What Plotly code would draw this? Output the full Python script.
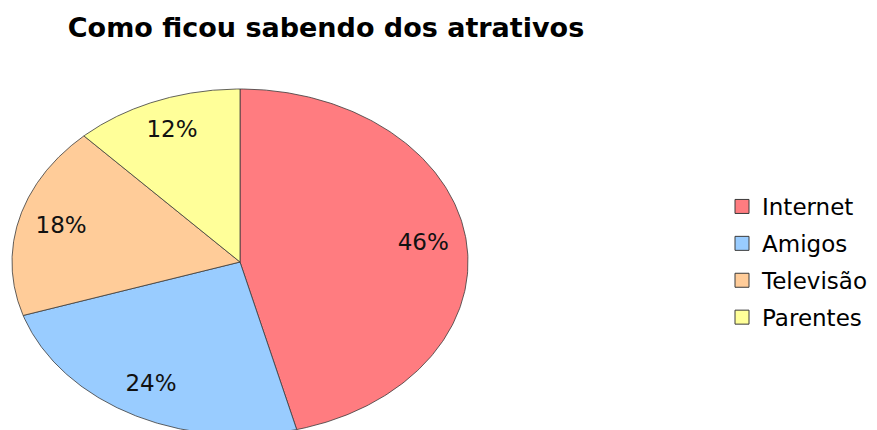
import numpy as np
import plotly.graph_objects as go

categories = ["Internet", "Amigos", "Televisão", "Parentes"]
values = [46, 24, 18, 12]
colors = ["#FF7C80", "#99CCFF", "#FFCC99", "#FFFF99"]

# the page body has an 8px margin, so the figure is offset by 8px
OFF = 8
W, H = 877, 430
cx, cy, rx, ry = 240, 262, 228, 173
label_frac = 0.81
FONT = "DejaVu Sans"

fig = go.Figure()
total = sum(values)
start = 0.0
for i, (cat, v) in enumerate(zip(categories, values)):
    frac0 = start / total
    frac1 = (start + v) / total
    th = np.linspace(frac0, frac1, 200) * 2 * np.pi
    xs = np.concatenate([[cx], cx + rx * np.sin(th), [cx]])
    ys = np.concatenate([[cy], cy - ry * np.cos(th), [cy]])
    fig.add_trace(go.Scatter(
        x=xs, y=ys, mode="lines", fill="toself", fillcolor=colors[i],
        line=dict(color="#3a3a3a", width=0.8), name=cat,
        showlegend=False, hoverinfo="skip"))
    mid = (frac0 + frac1) / 2 * 2 * np.pi
    fig.add_trace(go.Scatter(
        x=[cx + label_frac * rx * np.sin(mid)], y=[cy - label_frac * ry * np.cos(mid)],
        mode="text", text=[f"{v / total * 100:.0f}%"],
        textfont=dict(family=FONT, size=23, color="#111111"),
        showlegend=False, hoverinfo="skip"))
    start += v

# legend entries (square swatches)
for cat, col in zip(categories, colors):
    fig.add_trace(go.Scatter(
        x=[None], y=[None], mode="markers", name=cat, legendgroup=cat,
        marker=dict(symbol="square", size=14, color=col,
                    line=dict(color="#3a3a3a", width=1)),
        showlegend=True))

FW, FH = W - OFF, H - OFF
fig.update_layout(
    width=FW, height=FH,
    margin=dict(l=0, r=0, t=0, b=0),
    paper_bgcolor="white", plot_bgcolor="white",
    xaxis=dict(range=[OFF, W], visible=False, fixedrange=True),
    yaxis=dict(range=[H, OFF], visible=False, fixedrange=True),
    title=dict(text="<b>Como ficou sabendo dos atrativos</b>",
               x=(326 - OFF) / FW, xanchor="center", y=1 - (28 - OFF) / FH, yanchor="middle",
               font=dict(family=FONT, size=27, color="black")),
    legend=dict(x=(722 - OFF) / FW, y=1 - (185 - OFF) / FH, xanchor="left", yanchor="top",
                font=dict(family=FONT, size=23, color="black"),
                tracegroupgap=4, itemwidth=30, bgcolor="rgba(0,0,0,0)"),
    showlegend=True,
)

fig.write_html("out.html")
